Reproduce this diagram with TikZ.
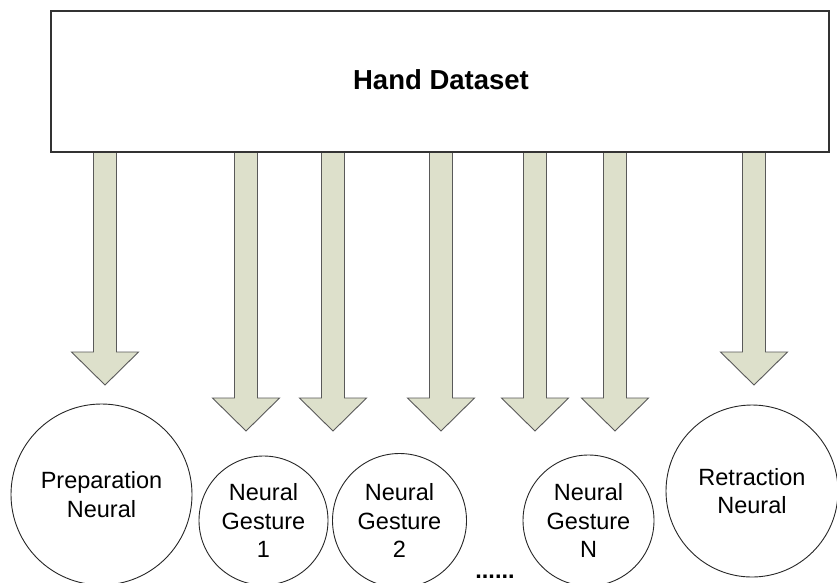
\documentclass[tikz,border=0pt]{standalone}
\usepackage{fontspec}
\setmainfont{Liberation Sans}
\begin{document}
\begin{tikzpicture}[x=1pt,y=-1pt,
  boxstyle/.style={draw=black!80,line width=1.3pt,fill=white},
  arrowfill/.style={fill=arrowgreen},
  arrowline/.style={draw=black!65,line width=0.9pt,line join=miter},
  unit/.style={circle,draw=black!85,line width=0.9pt,fill=white,inner sep=0pt,
    align=center,font=\fontsize{23.5}{28.5}\selectfont},
]
\definecolor{arrowgreen}{RGB}{221,224,203}
\useasboundingbox (0,0) rectangle (837,582);

% block arrow: centre x, top y, tip y
\newcommand\blockarr[3]{%
  \fill[arrowfill] (#1-11.5,#2) -- (#1-11.5,#3-33) -- (#1-33.5,#3-33) -- (#1,#3)
    -- (#1+33.5,#3-33) -- (#1+11.5,#3-33) -- (#1+11.5,#2) -- cycle;
  \draw[arrowline] (#1-11.5,#2) -- (#1-11.5,#3-33) -- (#1-33.5,#3-33) -- (#1,#3)
    -- (#1+33.5,#3-33) -- (#1+11.5,#3-33) -- (#1+11.5,#2);}

% source box
\node[boxstyle,minimum width=778pt,minimum height=141pt,inner sep=0pt]
  (data) at (440,81.5) {};
\node[font=\fontsize{27.5}{30}\selectfont\bfseries] (title) at (441,80) {Hand Dataset};

% arrows from the dataset to each network
\blockarr{105}{152}{385}
\blockarr{246}{152}{431}
\blockarr{333}{152}{431}
\blockarr{441}{152}{431}
\blockarr{535}{152}{431}
\blockarr{615}{152}{431}
\blockarr{754}{152}{385}
\draw[boxstyle,fill=none] (data.south west) -- (data.south east);

% networks
\node[unit,minimum size=181pt] (prep) at (101.5,494.5) {Preparation\\Neural};
\node[unit,minimum size=129pt] (g1) at (263.5,520.5) {Neural\\Gesture\\1};
\node[unit,minimum size=134pt] (g2) at (399.5,520.5) {Neural\\Gesture\\2};
\node[unit,minimum size=131pt] (gn) at (588.5,520.5) {Neural\\Gesture\\N};
\node[unit,minimum size=172pt] (retr) at (752,491) {Retraction\\Neural};
\node[font=\fontsize{23.5}{28}\selectfont\bfseries,anchor=base] (dots) at (495,578) {......};
\end{tikzpicture}
\end{document}
